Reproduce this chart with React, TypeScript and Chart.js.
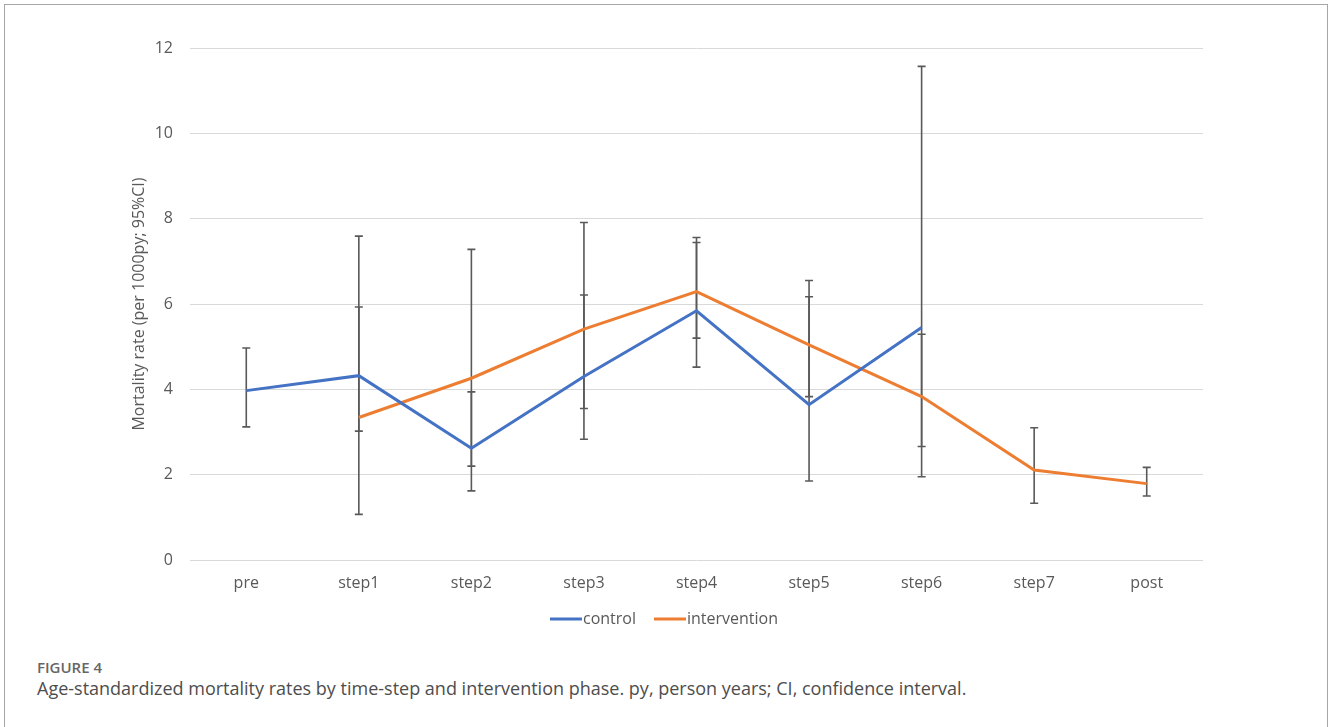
import React, { useEffect, useRef } from "react";
import { Chart, registerables } from "chart.js";

Chart.register(...registerables);

const categories = ["pre", "step1", "step2", "step3", "step4", "step5", "step6", "step7", "post"];

const controlRate = [3.97, 4.32, 2.62, 4.3, 5.84, 3.64, 5.45, null, null];
const controlLow = [3.12, 1.07, 1.62, 2.83, 4.52, 1.85, 1.95, null, null];
const controlHigh = [4.97, 7.59, 3.94, 7.91, 7.56, 6.55, 11.57, null, null];

const interventionRate = [null, 3.34, 4.26, 5.41, 6.29, 5.04, 3.83, 2.11, 1.79];
const interventionLow = [null, 3.02, 2.2, 3.55, 5.2, 3.83, 2.66, 1.33, 1.5];
const interventionHigh = [null, 5.93, 7.28, 6.21, 7.44, 6.17, 5.29, 3.1, 2.17];

const yTicks = [0, 2, 4, 6, 8, 10, 12];

const seriesNames = ["control", "intervention"];
const seriesColors = ["#4472C4", "#ED7D31"];

const FONT = "'Open Sans', 'DejaVu Sans', sans-serif";
const GREY = "#595959";

const errorBarPlugin = {
  id: "errorBars",
  beforeDatasetsDraw(chart: any) {
    const { ctx } = chart;
    const xs = chart.scales.x;
    const ys = chart.scales.y;
    const sets = [
      [controlLow, controlHigh],
      [interventionLow, interventionHigh],
    ];
    ctx.save();
    ctx.strokeStyle = GREY;
    ctx.lineWidth = 1.6;
    sets.forEach(([lo, hi]) => {
      lo.forEach((l, i) => {
        const h = hi[i];
        if (l == null || h == null) return;
        const x = xs.getPixelForValue(i);
        const y1 = ys.getPixelForValue(l);
        const y2 = ys.getPixelForValue(h);
        ctx.beginPath();
        ctx.moveTo(x, y1);
        ctx.lineTo(x, y2);
        ctx.moveTo(x - 4, y1);
        ctx.lineTo(x + 4, y1);
        ctx.moveTo(x - 4, y2);
        ctx.lineTo(x + 4, y2);
        ctx.stroke();
      });
    });
    ctx.restore();
  },
};

const legendPlugin = {
  id: "lineLegend",
  afterDraw(chart: any) {
    const { ctx } = chart;
    const lineW = 32;
    const gap = 18;
    const centerX = 664;
    const y = 619;
    ctx.save();
    ctx.font = `16px ${FONT}`;
    const widths = seriesNames.map((n) => lineW + 1 + ctx.measureText(n).width);
    const total = widths.reduce((a, b) => a + b, 0) + gap * (widths.length - 1);
    let x = centerX - total / 2;
    seriesNames.forEach((n, i) => {
      ctx.strokeStyle = seriesColors[i];
      ctx.lineWidth = 3;
      ctx.beginPath();
      ctx.moveTo(x, y);
      ctx.lineTo(x + lineW, y);
      ctx.stroke();
      ctx.fillStyle = GREY;
      ctx.textAlign = "left";
      ctx.textBaseline = "middle";
      ctx.fillText(n, x + lineW + 1, y);
      x += widths[i] + gap;
    });
    ctx.restore();
  },
};

export default function App() {
  const ref = useRef<HTMLCanvasElement | null>(null);

  useEffect(() => {
    if (!ref.current) return;
    const chart = new Chart(ref.current, {
      type: "line",
      data: {
        labels: categories,
        datasets: [
          {
            label: seriesNames[0],
            data: controlRate,
            borderColor: seriesColors[0],
            backgroundColor: seriesColors[0],
            borderWidth: 3,
            pointRadius: 0,
            tension: 0,
            spanGaps: false,
          },
          {
            label: seriesNames[1],
            data: interventionRate,
            borderColor: seriesColors[1],
            backgroundColor: seriesColors[1],
            borderWidth: 3,
            pointRadius: 0,
            tension: 0,
            spanGaps: false,
          },
        ],
      },
      options: {
        responsive: false,
        animation: false,
        layout: { padding: { left: 130, right: 125, top: 48, bottom: 0 } },
        plugins: {
          legend: { display: false },
          tooltip: { enabled: false },
        },
        scales: {
          x: {
            offset: true,
            grid: { display: false, drawTicks: false },
            border: { display: false },
            ticks: { color: GREY, font: { family: FONT, size: 16 }, padding: 14, maxRotation: 0 },
            afterFit: (s: any) => {
              s.height = 80;
            },
          },
          y: {
            min: 0,
            max: 12,
            afterBuildTicks: (s: any) => {
              s.ticks = yTicks.map((v) => ({ value: v }));
            },
            grid: { color: "#d9d9d9", lineWidth: 1, drawTicks: false },
            border: { display: false },
            ticks: { color: GREY, font: { family: FONT, size: 16 }, padding: 17 },
            title: {
              display: true,
              text: "Mortality rate (per 1000py; 95%CI)",
              color: GREY,
              font: { family: FONT, size: 16 },
              padding: { top: 0, bottom: 0 },
            },
            afterFit: (s: any) => {
              s.width = 60;
            },
          },
        },
      },
      plugins: [errorBarPlugin, legendPlugin],
    });
    return () => chart.destroy();
  }, []);

  return (
    <div
      style={{
        position: "fixed",
        left: 0,
        top: 0,
        width: 1328,
        height: 727,
        overflow: "hidden",
        background: "#fff",
      }}
    >
      <div
        style={{
          position: "absolute",
          left: 4,
          top: 4,
          width: 1324,
          height: 800,
          boxSizing: "border-box",
          border: "1px solid #a6a6a6",
        }}
      />
      <canvas
        ref={ref}
        width={1328}
        height={640}
        style={{ position: "absolute", left: 0, top: 0, width: 1328, height: 640 }}
      />
      <div
        style={{
          position: "absolute",
          left: 37,
          top: 657,
          fontFamily: FONT,
          fontSize: 15,
          fontWeight: 600,
          color: "#666",
          whiteSpace: "nowrap",
        }}
      >
        FIGURE 4
      </div>
      <div
        style={{
          position: "absolute",
          left: 37,
          top: 676,
          fontFamily: FONT,
          fontSize: 18,
          color: "#4d4d4d",
          whiteSpace: "nowrap",
        }}
      >
        Age-standardized mortality rates by time-step and intervention phase. py, person years; CI, confidence interval.
      </div>
    </div>
  );
}
